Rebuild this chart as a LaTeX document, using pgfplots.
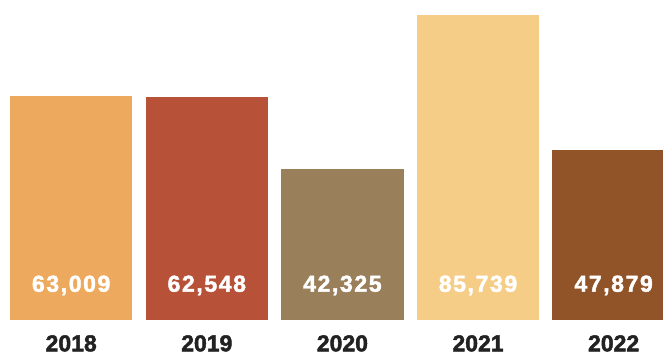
\documentclass[border=0pt]{standalone}
\usepackage{pgfplots}
\pgfplotsset{compat=1.18}
\usepackage{fontspec}
\setmainfont{Liberation Sans}
\newfontfamily\heavy{Liberation Sans}[BoldFeatures={FakeBold=2}]
\newfontfamily\heavyspaced{Liberation Sans}[BoldFeatures={FakeBold=2}, LetterSpace=7]
\definecolor{c18}{HTML}{EDAA5E}
\definecolor{c19}{HTML}{B75238}
\definecolor{c20}{HTML}{9A7F5B}
\definecolor{c21}{HTML}{F6CD87}
\definecolor{c22}{HTML}{915428}
\definecolor{ink}{HTML}{222222}
\begin{document}
\begin{tikzpicture}
\useasboundingbox (0pt,-33pt) rectangle (663pt,320pt);
\begin{axis}[
  at={(0pt,0pt)}, anchor=south west,
  scale only axis, width=663pt, height=320pt,
  xmin=-0.525, xmax=4.364, ymin=0, ymax=89955,
  axis line style={draw=none}, major tick length=0pt,
  ytick=\empty,
  xtick={0,1,2,3,4},
  xticklabels={2018,2019,2020,2021,2022},
  xticklabel style={anchor=base, inner sep=0pt, yshift=-31.3pt, font=\heavy\bfseries\fontsize{23}{23}\selectfont, text=ink},
  ybar, bar width=122.3pt, bar shift=0pt,
  clip=true,
]
\addplot[fill=c18, draw=none] coordinates {(0,63009)};
\addplot[fill=c19, draw=none] coordinates {(1,62548)};
\addplot[fill=c20, draw=none] coordinates {(2,42325)};
\addplot[fill=c21, draw=none] coordinates {(3,85739)};
\addplot[fill=c22, draw=none] coordinates {(4,47879)};
\addplot[draw=none, mark=none, sharp plot, nodes near coords, point meta=explicit symbolic,
  every node near coord/.append style={anchor=base, text=white, font=\heavyspaced\bfseries\fontsize{23}{23}\selectfont}]
  coordinates {(0,7955) [63,009] (1,7955) [62,548] (2,7955) [42,325] (3,7955) [85,739] (4,7955) [47,879]};
\end{axis}
\end{tikzpicture}
\end{document}
